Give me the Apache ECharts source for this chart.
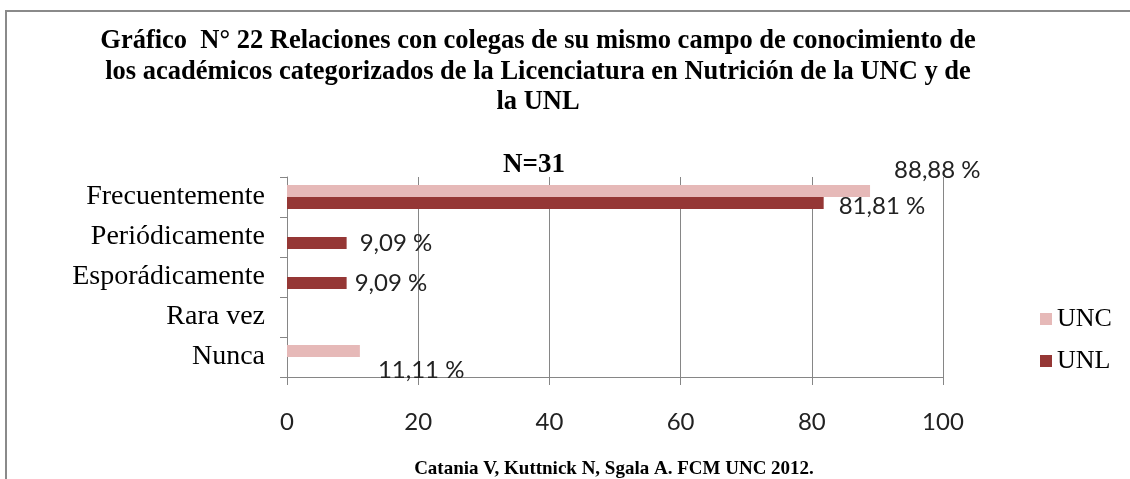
<!DOCTYPE html>
<html><head><meta charset="utf-8">
<script src="https://cdn.jsdelivr.net/npm/echarts@6/dist/echarts.min.js"></script>
<style>html,body{margin:0;padding:0;background:#fff}#c{width:1130px;height:479px}</style>
</head><body><div id="c"></div>
<script>
// ---- data ----
const categories = ['Frecuentemente', 'Periódicamente', 'Esporádicamente', 'Rara vez', 'Nunca'];
const seriesNames = ['UNC', 'UNL'];
const uncValues = [88.88, 0, 0, 0, 11.11];
const unlValues = [81.81, 9.09, 9.09, 0, 0];
const xTicks = [0, 20, 40, 60, 80, 100];
const titleLines = [
  'Gráfico  N° 22 Relaciones con colegas de su mismo campo de conocimiento de',
  'los académicos categorizados de la Licenciatura en Nutrición de la UNC y de',
  'la UNL'
];
const subtitleText = 'N=31';
const sourceText = 'Catania V, Kuttnick N, Sgala A. FCM UNC 2012.';

// ---- label placement (style only) ----
const uncLabelOffsets = {0: [24, -21], 4: [18, 19]};
const unlLabelOffsets = {0: [15, 3], 1: [13, 0], 2: [8, 0]};

const fmt = v => v.toFixed(2).replace('.', ',') + ' %';
const labelFont = {fontFamily: 'Lato', fontSize: 24, color: '#222'};

function buildData(values, offsets) {
  return values.map((v, i) => ({
    value: v,
    label: offsets[i] ? Object.assign({show: true, position: 'right', distance: 0, offset: offsets[i], formatter: p => fmt(p.value)}, labelFont) : {show: false}
  }));
}

const chart = echarts.init(document.getElementById('c'), null, {renderer: 'canvas'});
const gridColor = '#868686';
chart.setOption({
  backgroundColor: '#fff',
  animation: false,
  title: [
    {text: titleLines.join('\n'), left: 533, top: 21, textAlign: 'center',
     textStyle: {fontFamily: 'Liberation Serif', fontWeight: 'bold', fontSize: 26.5, lineHeight: 30.5, color: '#000'}},
    {text: subtitleText, left: 529, top: 147, textAlign: 'center',
     textStyle: {fontFamily: 'Liberation Serif', fontWeight: 'bold', fontSize: 27, color: '#000'}},
    {text: sourceText, left: 609, top: 455, textAlign: 'center',
     textStyle: {fontFamily: 'Liberation Serif', fontWeight: 'bold', fontSize: 19, color: '#000'}}
  ],
  legend: {
    orient: 'vertical', left: 1035, top: 301, itemWidth: 12, itemHeight: 12, itemGap: 16,
    icon: 'rect', data: seriesNames,
    textStyle: {fontFamily: 'Liberation Serif', fontSize: 26, color: '#000'}
  },
  graphic: [{
    type: 'rect', z: -10, silent: true,
    shape: {x: 6, y: 11, width: 1300, height: 600},
    style: {fill: 'none', stroke: '#8a8a8a', lineWidth: 2}
  }],
  grid: {left: 287, right: 187, top: 177, height: 200, containLabel: false},
  xAxis: {
    type: 'value', min: xTicks[0], max: xTicks[xTicks.length - 1], interval: xTicks[1] - xTicks[0],
    axisLine: {show: true, lineStyle: {color: gridColor}},
    axisTick: {show: true, length: 8, lineStyle: {color: gridColor}},
    splitLine: {show: true, lineStyle: {color: gridColor, width: 1}},
    axisLabel: {margin: 33, fontFamily: 'Lato', fontSize: 24, color: '#222'}
  },
  yAxis: {
    type: 'category', inverse: true, data: categories,
    axisLine: {show: true, lineStyle: {color: gridColor}},
    axisTick: {show: true, length: 7, lineStyle: {color: gridColor}},
    axisLabel: {margin: 22, fontFamily: 'Liberation Serif', fontSize: 28, color: '#000'}
  },
  series: [
    {name: seriesNames[0], type: 'bar', data: buildData(uncValues, uncLabelOffsets),
     barGap: '0%', barCategoryGap: '40%', itemStyle: {color: '#E6B9B8'}},
    {name: seriesNames[1], type: 'bar', data: buildData(unlValues, unlLabelOffsets),
     barGap: '0%', barCategoryGap: '40%', itemStyle: {color: '#953735'}}
  ]
});
</script></body></html>
